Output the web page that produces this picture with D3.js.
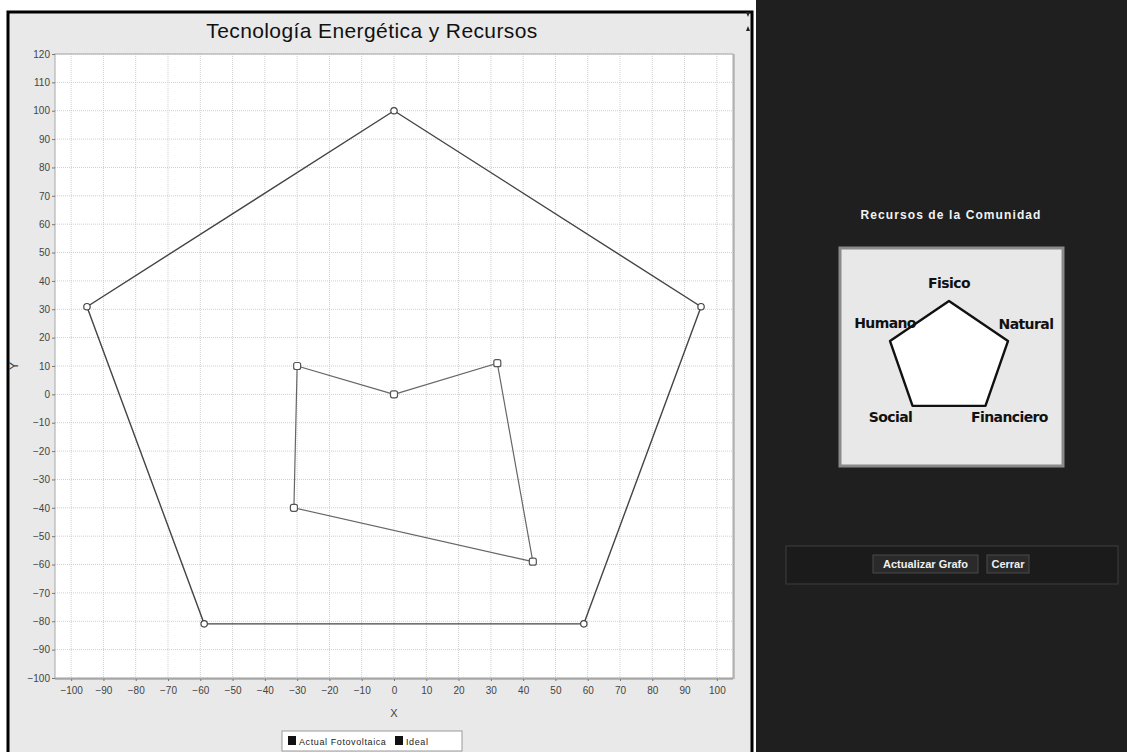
<!DOCTYPE html>
<html>
<head>
<meta charset="utf-8">
<script src="https://cdn.jsdelivr.net/npm/d3@7"></script>
<style>
  body { margin: 0; background: #ffffff; }
  svg { display: block; }
</style>
</head>
<body>
<div id="chart"></div>
<script>
const chartTitle = "Tecnología Energética y Recursos";
const xLabel = "X";
const yLabel = "Y";
const xTicks = [-100, -90, -80, -70, -60, -50, -40, -30, -20, -10, 0, 10, 20, 30, 40, 50, 60, 70, 80, 90, 100];
const yTicks = [-100, -90, -80, -70, -60, -50, -40, -30, -20, -10, 0, 10, 20, 30, 40, 50, 60, 70, 80, 90, 100, 110, 120];

const seriesNames = ["Actual Fotovoltaica", "Ideal"];
// closed outlines, first point repeated at the end
const actualX = [0, 32, 43, -31, -30, 0];
const actualY = [0, 11, -59, -40, 10, 0];
const idealX = [0, 95.1, 58.8, -58.8, -95.1, 0];
const idealY = [100, 30.9, -80.9, -80.9, 30.9, 100];

const sideTitle = "Recursos de la Comunidad";
const radarLabels = ["Fisico", "Natural", "Financiero", "Social", "Humano"];
const radarValues = [1, 1, 1, 1, 1];
const buttonLabels = ["Actualizar Grafo", "Cerrar"];

const W = 1127, H = 752;
const SVG_ID = "chart_svg";

d3.select("#chart").append("svg")
  .attr("width", W)
  .attr("height", H)
  .attr("id", SVG_ID);

let svg = d3.select("#" + SVG_ID);

// ---- left window (chart panel) ----
svg.append("rect")
  .attr("x", 8).attr("y", 12)
  .attr("width", 744).attr("height", 745)
  .attr("fill", "#e9e9e9")
  .attr("stroke", "#000").attr("stroke-width", 3);

// little scroll arrows at top right of panel
svg.append("path").attr("d", "M746,12 L750,12 L748,17 Z").attr("fill", "#222");
svg.append("path").attr("d", "M746,31 L750,31 L748,26 Z").attr("fill", "#222");

// ---- right window (dark panel) ----
svg.append("rect")
  .attr("x", 756).attr("y", 0)
  .attr("width", W - 756).attr("height", H)
  .attr("fill", "#1f1f1f");

// ---- scatter / line plot ----
let plot = { left: 55, right: 733, top: 54, bottom: 678 };

let x = d3.scaleLinear().domain([-105, 105]).range([plot.left, plot.right]);
let y = d3.scaleLinear().domain([-100, 120]).range([plot.bottom, plot.top]);

svg.append("rect")
  .attr("x", plot.left).attr("y", plot.top)
  .attr("width", plot.right - plot.left)
  .attr("height", plot.bottom - plot.top)
  .attr("fill", "#ffffff");

// grid
svg.append("g")
  .selectAll("line")
  .data(xTicks)
  .enter()
  .append("line")
  .attr("x1", d => x(d)).attr("x2", d => x(d))
  .attr("y1", plot.top).attr("y2", plot.bottom)
  .attr("stroke", "#cfcfcf")
  .attr("stroke-dasharray", "1,1");

svg.append("g")
  .selectAll("line")
  .data(yTicks)
  .enter()
  .append("line")
  .attr("x1", plot.left).attr("x2", plot.right)
  .attr("y1", d => y(d)).attr("y2", d => y(d))
  .attr("stroke", "#cfcfcf")
  .attr("stroke-dasharray", "1,1");

// plot border
svg.append("rect")
  .attr("x", plot.left).attr("y", plot.top)
  .attr("width", plot.right - plot.left)
  .attr("height", plot.bottom - plot.top)
  .attr("fill", "none")
  .attr("stroke", "#a8a8a8")
  .attr("stroke-width", 1);
svg.append("line")
  .attr("x1", plot.left).attr("x2", plot.right)
  .attr("y1", plot.bottom + 1).attr("y2", plot.bottom + 1)
  .attr("stroke", "#888");
svg.append("line")
  .attr("x1", plot.right + 1).attr("x2", plot.right + 1)
  .attr("y1", plot.top).attr("y2", plot.bottom + 1)
  .attr("stroke", "#999");

// axes
let xAxis = d3.axisBottom(x).tickValues(xTicks).tickSize(2).tickPadding(6);
let yAxis = d3.axisLeft(y).tickValues(yTicks).tickSize(3).tickPadding(2);

svg.append("g")
  .attr("transform", "translate(0," + (plot.bottom + 1) + ")")
  .call(xAxis)
  .call(g => g.select(".domain").remove())
  .call(g => g.selectAll("line").attr("stroke", "#777"))
  .call(g => g.selectAll("text")
    .attr("fill", "#444")
    .style("font-family", "Liberation Sans, Arial, sans-serif")
    .style("font-size", "10px"));

svg.append("g")
  .attr("transform", "translate(" + plot.left + ",0)")
  .call(yAxis)
  .call(g => g.select(".domain").remove())
  .call(g => g.selectAll("line").attr("stroke", "#777"))
  .call(g => g.selectAll("text")
    .attr("fill", "#444")
    .style("font-family", "Liberation Sans, Arial, sans-serif")
    .style("font-size", "10px"));

// series
let line = d3.line()
  .x(d => x(d[0]))
  .y(d => y(d[1]));

let idealPts = idealX.map((v, i) => [v, idealY[i]]);
let actualPts = actualX.map((v, i) => [v, actualY[i]]);

svg.append("path")
  .datum(idealPts)
  .attr("d", line)
  .attr("fill", "none")
  .attr("stroke", "#444")
  .attr("stroke-width", 1.4);

svg.append("path")
  .datum(actualPts)
  .attr("d", line)
  .attr("fill", "none")
  .attr("stroke", "#666")
  .attr("stroke-width", 1.2);

svg.append("g")
  .selectAll("circle")
  .data(idealPts.slice(0, -1))
  .enter()
  .append("circle")
  .attr("cx", d => x(d[0]))
  .attr("cy", d => y(d[1]))
  .attr("r", 3.2)
  .attr("fill", "#fff")
  .attr("stroke", "#444")
  .attr("stroke-width", 1.2);

svg.append("g")
  .selectAll("rect")
  .data(actualPts.slice(0, -1))
  .enter()
  .append("rect")
  .attr("x", d => x(d[0]) - 3.5)
  .attr("y", d => y(d[1]) - 3.5)
  .attr("width", 7).attr("height", 7)
  .attr("rx", 2)
  .attr("fill", "#fff")
  .attr("stroke", "#555")
  .attr("stroke-width", 1.2);

// title and axis labels
svg.append("text")
  .attr("x", 372).attr("y", 38)
  .attr("text-anchor", "middle")
  .style("font-family", "Liberation Sans, Arial, sans-serif")
  .style("font-size", "21px")
  .style("letter-spacing", "0.4px")
  .attr("fill", "#111")
  .text(chartTitle);

svg.append("text")
  .attr("x", x(0)).attr("y", 717)
  .attr("text-anchor", "middle")
  .style("font-family", "Liberation Sans, Arial, sans-serif")
  .style("font-size", "11px")
  .attr("fill", "#444")
  .text(xLabel);

svg.append("text")
  .attr("transform", "translate(18,366) rotate(-90)")
  .attr("text-anchor", "middle")
  .style("font-family", "Liberation Sans, Arial, sans-serif")
  .style("font-size", "13px")
  .attr("fill", "#444")
  .text(yLabel);

// legend
let legend = svg.append("g").attr("transform", "translate(282,731)");
legend.append("rect")
  .attr("width", 180).attr("height", 20)
  .attr("fill", "#fff")
  .attr("stroke", "#999");
let legendX = [6, 113];
legend.selectAll("g.item")
  .data(seriesNames)
  .enter()
  .append("g")
  .attr("class", "item")
  .attr("transform", (d, i) => "translate(" + legendX[i] + ",5)")
  .each(function (d) {
    let g = d3.select(this);
    g.append("rect").attr("width", 8).attr("height", 9).attr("fill", "#111");
    g.append("text")
      .attr("x", 11).attr("y", 9)
      .style("font-family", "Liberation Sans, Arial, sans-serif")
      .style("font-size", "9px")
      .style("letter-spacing", "0.6px")
      .attr("fill", "#222")
      .text(d);
  });

// ---- right panel contents ----
svg.append("text")
  .attr("x", 951).attr("y", 219)
  .attr("text-anchor", "middle")
  .style("font-family", "Liberation Sans, Arial, sans-serif")
  .style("font-size", "12px")
  .style("font-weight", "bold")
  .style("letter-spacing", "1.1px")
  .attr("fill", "#f2f2f2")
  .text(sideTitle);

svg.append("rect")
  .attr("x", 840).attr("y", 248)
  .attr("width", 223).attr("height", 218)
  .attr("fill", "#e8e8e8")
  .attr("stroke", "#8a8a8a")
  .attr("stroke-width", 3);

let cx = 949, cy = 359;
let rX = d3.scaleLinear().domain([0, 1]).range([0, 62]);
let rY = d3.scaleLinear().domain([0, 1]).range([0, 58]);
let angle = i => i * 2 * Math.PI / radarLabels.length;
let radarPts = radarValues.map((v, i) => [cx + rX(v) * Math.sin(angle(i)), cy - rY(v) * Math.cos(angle(i))]);

svg.append("path")
  .datum(radarPts)
  .attr("d", d3.line().curve(d3.curveLinearClosed))
  .attr("fill", "#ffffff")
  .attr("stroke", "#111")
  .attr("stroke-width", 2.4)
  .attr("stroke-linejoin", "round");

let labelOff = [[0, -13], [18, -12], [24, 16], [-22, 16], [-5, -13]];
svg.append("g")
  .selectAll("text")
  .data(radarLabels)
  .enter()
  .append("text")
  .attr("x", (d, i) => radarPts[i][0] + labelOff[i][0])
  .attr("y", (d, i) => radarPts[i][1] + labelOff[i][1])
  .attr("text-anchor", "middle")
  .style("font-family", "DejaVu Sans, sans-serif")
  .style("font-size", "14px")
  .style("font-weight", "600")
  .style("letter-spacing", "-0.6px")
  .attr("fill", "#111")
  .text(d => d);

// button bar
svg.append("rect")
  .attr("x", 786).attr("y", 546)
  .attr("width", 332).attr("height", 38)
  .attr("fill", "#1b1b1b")
  .attr("stroke", "#3a3a3a")
  .attr("stroke-width", 1.2);

let btnX = [873, 987];
let btnW = [105, 42];
let btn = svg.append("g")
  .selectAll("g")
  .data(buttonLabels)
  .enter()
  .append("g")
  .attr("transform", (d, i) => "translate(" + btnX[i] + ",555)");

btn.append("rect")
  .attr("width", (d, i) => btnW[i]).attr("height", 18)
  .attr("fill", "#2a2a2a")
  .attr("stroke", "#4a4a4a");

btn.append("text")
  .attr("x", (d, i) => btnW[i] / 2).attr("y", 13)
  .attr("text-anchor", "middle")
  .style("font-family", "Liberation Sans, Arial, sans-serif")
  .style("font-size", "11px")
  .style("font-weight", "bold")
  .attr("fill", "#f0f0f0")
  .text(d => d);
</script>
</body>
</html>
